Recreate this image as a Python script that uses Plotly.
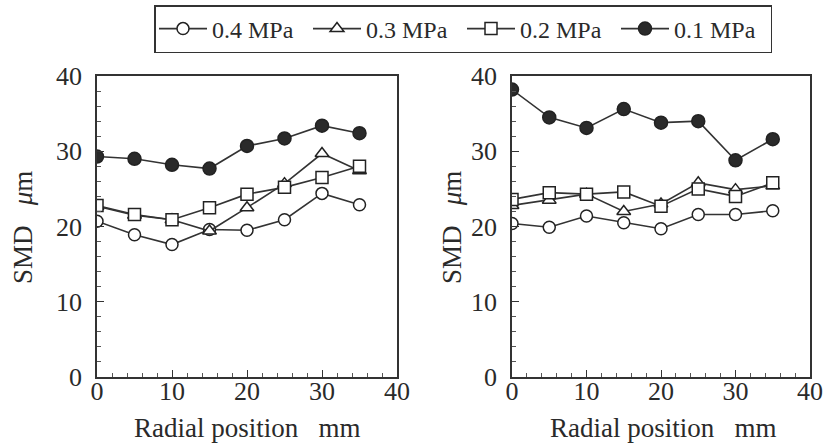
import plotly.graph_objects as go

radial = [0, 5, 10, 15, 20, 25, 30, 35]
series_names = ["0.4 MPa", "0.3 MPa", "0.2 MPa", "0.1 MPa"]

left_04 = [20.7, 18.9, 17.6, 19.6, 19.5, 20.9, 24.4, 22.9]
left_03 = [22.7, 21.5, 20.9, 19.4, 22.5, 25.7, 29.7, 27.4]
left_02 = [22.8, 21.6, 20.9, 22.5, 24.3, 25.2, 26.5, 28.0]
left_01 = [29.3, 29.0, 28.2, 27.7, 30.7, 31.7, 33.4, 32.4]

right_04 = [20.4, 19.9, 21.4, 20.5, 19.7, 21.6, 21.6, 22.1]
right_03 = [22.8, 23.5, 24.3, 22.0, 23.0, 25.8, 24.9, 25.4]
right_02 = [23.6, 24.5, 24.3, 24.6, 22.7, 25.0, 24.0, 25.8]
right_01 = [38.2, 34.5, 33.1, 35.6, 33.8, 34.0, 28.8, 31.6]

x_ticks = [0, 10, 20, 30, 40]
y_ticks = [0, 10, 20, 30, 40]
x_title = "Radial position   mm"
y_title = "SMD   <i>μ</i>m"

symbols = ["circle", "triangle-up", "square", "circle"]
fills = ["white", "white", "white", "#2a2a2a"]
sizes = [12, 12, 12, 13]
line_col = "#333333"
FONT = "Liberation Serif, Times New Roman, serif"
TXT = "#2a2a2a"
W, H = 826, 443

fig = go.Figure()
left = [left_04, left_03, left_02, left_01]
right = [right_04, right_03, right_02, right_01]
for i, name in enumerate(series_names):
    for j, (data, xa, ya) in enumerate([(left[i], "x", "y"), (right[i], "x2", "y2")]):
        fig.add_trace(go.Scatter(
            x=radial, y=data, xaxis=xa, yaxis=ya,
            mode="lines+markers", name=name, showlegend=(j == 0),
            legendgroup=name,
            line=dict(color=line_col, width=1.6),
            marker=dict(symbol=symbols[i], size=sizes[i],
                        color=fills[i], line=dict(color="#222222", width=1.5)),
        ))

def axis(ticks, standoff):
    return dict(
        range=[0, 40], showgrid=False, zeroline=False, automargin=False,
        showline=True, linecolor="#333333", linewidth=1.5, mirror=True,
        ticks="inside", ticklen=7, tickwidth=1.2, tickcolor="#333333",
        tickvals=ticks, ticktext=[str(v) for v in ticks],
        ticklabelstandoff=standoff,
        tickfont=dict(family=FONT, size=26, color=TXT),
        minor=dict(dtick=2, ticks="inside", ticklen=4, tickwidth=1, tickcolor="#555555"),
    )

fig.update_layout(
    width=W, height=H,
    margin=dict(l=0, r=0, t=0, b=0),
    paper_bgcolor="white", plot_bgcolor="white",
    xaxis=dict(domain=[97/W, 397/W], anchor="y", **axis(x_ticks, -10)),
    yaxis=dict(domain=[66/H, 367/H], anchor="x", **axis(y_ticks, 8)),
    xaxis2=dict(domain=[512/W, 810/W], anchor="y2", **axis(x_ticks, -10)),
    yaxis2=dict(domain=[66/H, 367/H], anchor="x2", **axis(y_ticks, 8)),
    legend=dict(orientation="h", x=154/W, xanchor="left", y=1 - 5/H, yanchor="top",
                bordercolor="#333333", borderwidth=1.5,
                font=dict(family=FONT, size=24, color=TXT),
                itemwidth=48, tracegroupgap=0,
                entrywidth=91, entrywidthmode="pixels"),
    showlegend=True,
)

tfont = dict(family=FONT, size=27, color=TXT)
for cx in [247, 663]:
    fig.add_annotation(text=x_title, xref="paper", yref="paper", x=cx/W, y=1 - 428/H,
                       xanchor="center", yanchor="middle", showarrow=False, font=tfont)
for cx in [23, 452]:
    fig.add_annotation(text=y_title, xref="paper", yref="paper", x=cx/W, y=1 - 228/H,
                       xanchor="center", yanchor="middle", showarrow=False, font=tfont,
                       textangle=-90)

fig.write_html("out.html", config={"displayModeBar": False},
               post_script="document.body.style.margin='0';")
